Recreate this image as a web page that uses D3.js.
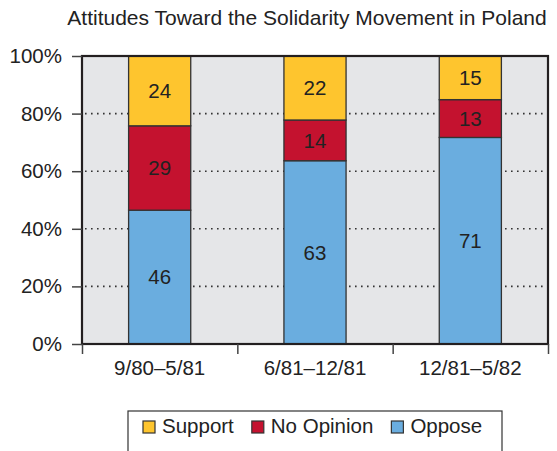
<!DOCTYPE html>
<html>
<head>
<meta charset="utf-8">
<script src="https://cdn.jsdelivr.net/npm/d3@7/dist/d3.min.js"></script>
<style>
  html, body { margin: 0; padding: 0; background: #fff; }
  svg { display: block; font-family: "Liberation Sans", Arial, sans-serif; }
</style>
</head>
<body>
<svg id="chart" width="557" height="451"></svg>
<script>
// chart data
var title = "Attitudes Toward the Solidarity Movement in Poland";
var periods = ["9/80\u20135/81", "6/81\u201312/81", "12/81\u20135/82"];
var oppose = [46, 63, 71];
var noOpinion = [29, 14, 13];
var support = [24, 22, 15];
var seriesKeys = ["Oppose", "No Opinion", "Support"];   // bottom to top
var legendKeys = ["Support", "No Opinion", "Oppose"];
var yTicks = [0, 0.2, 0.4, 0.6, 0.8, 1];

var COLORS = { "Support": "#fec52e", "No Opinion": "#c4122f", "Oppose": "#6aaddf" };

var svg = d3.select("#chart");
var plotL = 82, plotR = 548, plotT = 56, plotB = 344;
var FONT = "20.5px";

var rows = periods.map(function (p, i) {
    return { period: p, "Oppose": oppose[i], "No Opinion": noOpinion[i], "Support": support[i] };
});
var stacked = d3.stack().keys(seriesKeys).offset(d3.stackOffsetExpand)(rows);

var x = d3.scaleBand().domain(periods).range([plotL, plotR]).padding(0);
var xEdge = d3.scaleLinear().domain([0, periods.length]).range([plotL, plotR]);
var y = d3.scaleLinear().domain([0, 1]).range([plotB, plotT]);
var barW = x.bandwidth() * 0.4;

// plot background
svg.append("rect")
    .attr("x", plotL).attr("y", plotT)
    .attr("width", plotR - plotL).attr("height", plotB - plotT)
    .style("fill", "#e5e6e8");

// dotted gridlines
svg.append("g").selectAll("line")
    .data(yTicks.filter(function (d) { return d > 0 && d < 1; }))
    .enter().append("line")
    .attr("x1", plotL + 3).attr("x2", plotR - 2)
    .attr("y1", function (d) { return y(d); })
    .attr("y2", function (d) { return y(d); })
    .style("stroke", "#333")
    .style("stroke-width", 1.6)
    .style("stroke-dasharray", "1.6,4.4");

// bars
var layers = svg.append("g").selectAll("g")
    .data(stacked)
    .enter().append("g")
    .style("fill", function (d) { return COLORS[d.key]; });

layers.selectAll("rect")
    .data(function (d) { return d; })
    .enter().append("rect")
    .attr("x", function (d) { return x(d.data.period) + (x.bandwidth() - barW) / 2; })
    .attr("y", function (d) { return y(d[1]); })
    .attr("width", barW)
    .attr("height", function (d) { return y(d[0]) - y(d[1]); })
    .style("stroke", "#333")
    .style("stroke-width", 1.3);

// value labels
stacked.forEach(function (layer) {
    svg.append("g").selectAll("text")
        .data(layer)
        .enter().append("text")
        .attr("x", function (d) { return x(d.data.period) + x.bandwidth() / 2; })
        .attr("y", function (d) { return (y(d[0]) + y(d[1])) / 2; })
        .attr("dy", "0.36em")
        .attr("text-anchor", "middle")
        .style("font-size", FONT)
        .style("fill", "#222")
        .text(function (d) { return d.data[layer.key]; });
});

// frame
svg.append("rect")
    .attr("x", plotL).attr("y", plotT)
    .attr("width", plotR - plotL).attr("height", plotB - plotT)
    .style("fill", "none")
    .style("stroke", "#231f20")
    .style("stroke-width", 2.2);

// y axis
var yAxis = svg.append("g")
    .attr("transform", "translate(" + plotL + ",0)")
    .call(d3.axisLeft(y).tickValues(yTicks).tickFormat(d3.format(".0%")).tickSize(10).tickPadding(10));
yAxis.select(".domain").remove();
yAxis.selectAll("line").style("stroke", "#444").style("stroke-width", 1.5);
yAxis.selectAll("text").style("font-size", FONT).style("fill", "#222").style("font-family", "Liberation Sans, Arial, sans-serif");

// x axis: ticks at band edges, labels at band centres
var xTicks = svg.append("g")
    .attr("transform", "translate(0," + plotB + ")")
    .call(d3.axisBottom(xEdge).tickValues(d3.range(periods.length + 1)).tickFormat("").tickSize(10));
xTicks.select(".domain").remove();
xTicks.selectAll("line").style("stroke", "#444").style("stroke-width", 1.5);

var xLabels = svg.append("g")
    .attr("transform", "translate(0," + plotB + ")")
    .call(d3.axisBottom(x).tickSize(0).tickPadding(16));
xLabels.select(".domain").remove();
xLabels.selectAll("text").style("font-size", FONT).style("fill", "#222").style("font-family", "Liberation Sans, Arial, sans-serif");

// title
svg.append("text")
    .attr("x", 307).attr("y", 25)
    .attr("text-anchor", "middle")
    .style("font-size", "21px")
    .style("fill", "#222")
    .text(title);

// legend
var legend = svg.append("g");
legend.append("rect")
    .attr("x", 128).attr("y", 411)
    .attr("width", 374).attr("height", 50)
    .style("fill", "#fff")
    .style("stroke", "#333")
    .style("stroke-width", 1.2);

var lx = 143;
legendKeys.forEach(function (k) {
    legend.append("rect")
        .attr("x", lx).attr("y", 421)
        .attr("width", 12).attr("height", 12)
        .style("fill", COLORS[k])
        .style("stroke", "#333")
        .style("stroke-width", 1.2);
    var t = legend.append("text")
        .attr("x", lx + 19).attr("y", 433)
        .style("font-size", FONT)
        .style("fill", "#222")
        .text(k);
    lx += 19 + t.node().getComputedTextLength() + 18;
});
</script>
</body>
</html>
